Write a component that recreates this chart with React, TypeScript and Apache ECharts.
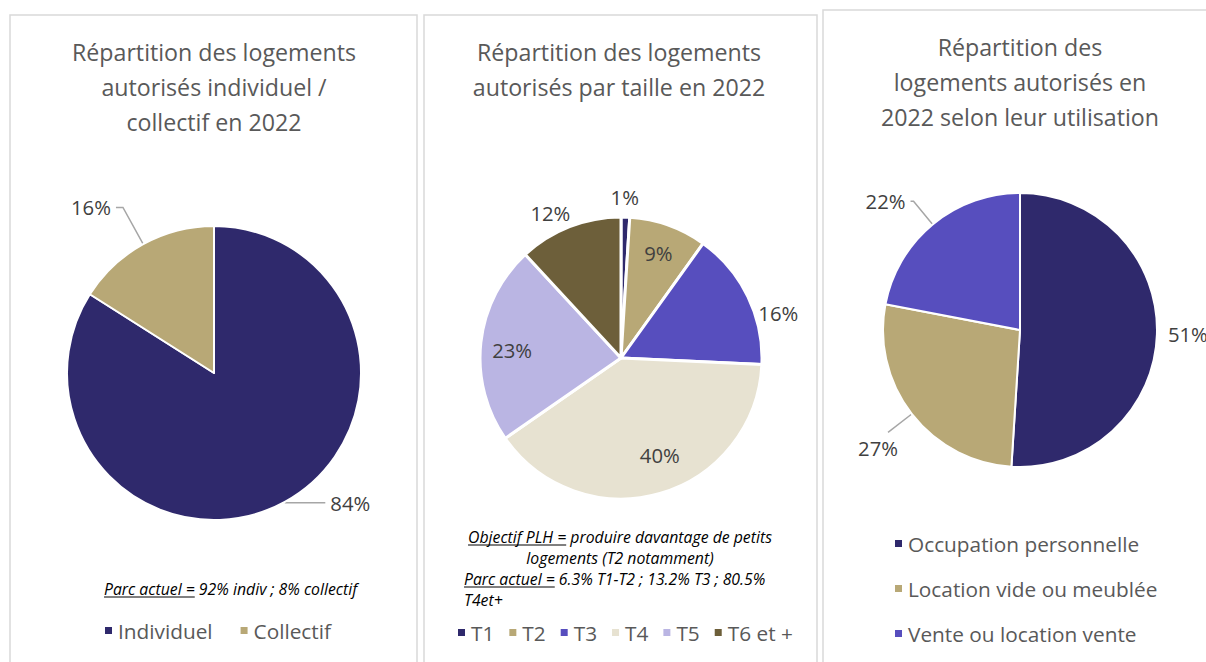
import React, { useEffect, useRef } from "react";
import * as echarts from "echarts";

const FAMILY = "'Open Sans'";
const FONT = "'Open Sans', Lato, sans-serif";

const titleTexts = [
  "Répartition des logements\nautorisés individuel /\ncollectif en 2022",
  "Répartition des logements\nautorisés par taille en 2022",
  "Répartition des\nlogements autorisés en\n2022 selon leur utilisation",
];

const typeCategories = ["Individuel", "Collectif"];
const typeValues = [84, 16];
const typeColors = ["#2F296C", "#B8A876"];

const sizeCategories = ["T1", "T2", "T3", "T4", "T5", "T6 et +"];
const sizeValues = [1, 9, 16, 40, 23, 12];
const sizeColors = ["#2F296C", "#B8A876", "#574EBE", "#E7E2D1", "#BAB5E3", "#6D5F3A"];
const sizeInside = [false, true, false, true, true, false];

const useCategories = ["Occupation personnelle", "Location vide ou meublée", "Vente ou location vente"];
const useValues = [51, 27, 22];
const useColors = ["#2F296C", "#B8A876", "#574EBE"];

const LABEL_COLOR = "#404040";
const TEXT_GRAY = "#595959";
const LINE_GRAY = "#A6A6A6";

function measure(text: string, font: string): number {
  const c = document.createElement("canvas").getContext("2d");
  if (!c) return text.length * 7;
  c.font = font;
  return c.measureText(text).width;
}

// font size so that a sample string takes the width it has in the reference
function fitSize(sample: string, target: number, style = "", fallback = 16): number {
  const w = measure(sample, `${style} 100px ${FAMILY}`);
  if (!w || !isFinite(w)) return fallback;
  return Math.round((100 * target * 10) / w) / 10;
}

export default function App() {
  const ref = useRef<HTMLDivElement>(null);

  useEffect(() => {
    if (!ref.current) return;
    const chart = echarts.init(ref.current, null, { renderer: "svg" });

    const TITLE_SIZE = fitSize("Répartition des logements", 284, "", 21);
    const LEGEND_SIZE = fitSize("Occupation personnelle", 231, "", 20);
    const NOTE_SIZE = fitSize("Parc actuel = 92% indiv ; 8% collectif", 253, "italic", 14);
    const LABEL_SIZE = fitSize("84%", 40, "", 19);
    const NOTE_FONT = `italic ${NOTE_SIZE}px ${FAMILY}`;

    const noteText = (x: number, y: number, text: string, align: string = "left") => ({
      type: "text",
      x,
      y,
      silent: true,
      style: {
        text,
        fontFamily: FONT,
        fontStyle: "italic",
        fontSize: NOTE_SIZE,
        fill: "#000",
        align,
        verticalAlign: "middle",
      },
    });

    const underline = (x: number, y: number, text: string) => {
      const w = measure(text, NOTE_FONT);
      return {
        type: "line",
        silent: true,
        shape: { x1: x, y1: y, x2: x + w, y2: y },
        style: { stroke: "#000", lineWidth: 1 },
      };
    };

    const labelBase = {
      formatter: "{c}%",
      color: LABEL_COLOR,
      fontSize: LABEL_SIZE,
      fontFamily: FONT,
    };

    const n2l1 = "Objectif PLH = produire davantage de petits";
    const n2l1w = measure(n2l1, NOTE_FONT);
    const n2l1x = 620 - n2l1w / 2;

    const sizeLabelShift: Record<number, { dx: number; dy: number }> = {
      0: { dx: -20, dy: -14 },
      2: { dx: 0, dy: 19 },
      5: { dx: 8, dy: -8 },
    };
    const sizeInsideShift: Record<number, { dx: number; dy: number }> = {
      3: { dx: 8, dy: -10 },
      4: { dx: 2, dy: 4 },
    };

    const option: any = {
      animation: false,
      backgroundColor: "#fff",
      textStyle: { fontFamily: FONT },
      title: [
        { text: titleTexts[0], left: 209, top: 29.5, textAlign: "center" },
        { text: titleTexts[1], left: 614, top: 29.5, textAlign: "center" },
        { text: titleTexts[2], left: 1015, top: 24.5, textAlign: "center" },
      ].map((t) => ({
        ...t,
        textStyle: {
          fontFamily: FONT,
          fontSize: TITLE_SIZE,
          fontWeight: "normal",
          color: TEXT_GRAY,
          lineHeight: 35,
        },
      })),
      legend: [
        {
          data: typeCategories,
          left: 103,
          top: 620,
          orient: "horizontal",
          padding: 0,
          itemGap: 26,
        },
        {
          data: sizeCategories,
          left: 456,
          top: 622,
          orient: "horizontal",
          padding: 0,
          itemGap: 13,
        },
        {
          data: useCategories,
          left: 893,
          top: 533,
          orient: "vertical",
          padding: 0,
          itemGap: 24,
        },
      ].map((l) => ({
        ...l,
        icon: "rect",
        itemWidth: 9,
        itemHeight: 9,
        selectedMode: false,
        textStyle: { fontFamily: FONT, fontSize: LEGEND_SIZE, color: TEXT_GRAY },
      })),
      graphic: [
        {
          type: "rect",
          silent: true,
          z: -10,
          shape: { x: 10, y: 15, width: 407, height: 700 },
          style: { fill: "none", stroke: "#D9D9D9", lineWidth: 1.5 },
        },
        {
          type: "rect",
          silent: true,
          z: -10,
          shape: { x: 424, y: 15, width: 393, height: 700 },
          style: { fill: "none", stroke: "#D9D9D9", lineWidth: 1.5 },
        },
        {
          type: "rect",
          silent: true,
          z: -10,
          shape: { x: 823, y: 10, width: 500, height: 700 },
          style: { fill: "none", stroke: "#D9D9D9", lineWidth: 1.5 },
        },
        noteText(104, 589, "Parc actuel = 92% indiv ; 8% collectif"),
        underline(104, 597, "Parc actuel ="),
        noteText(n2l1x, 537, n2l1),
        underline(n2l1x, 545, "Objectif PLH ="),
        noteText(620, 558, "logements (T2 notamment)", "center"),
        noteText(464, 579, "Parc actuel = 6.3% T1-T2 ; 13.2% T3 ; 80.5%"),
        underline(464, 587, "Parc actuel ="),
        noteText(464, 600, "T4et+"),
      ],
      series: [
        {
          type: "pie",
          center: [214, 373],
          radius: [0, 147],
          startAngle: 90,
          clockwise: true,
          silent: true,
          avoidLabelOverlap: false,
          itemStyle: { borderColor: "#fff", borderWidth: 2 },
          label: { ...labelBase, position: "outside" },
          labelLine: { lineStyle: { color: LINE_GRAY, width: 1.5 } },
          data: typeCategories.map((name, i) => ({
            name,
            value: typeValues[i],
            itemStyle: { color: typeColors[i] },
            labelLine: i === 0 ? { length: 1, length2: 40 } : { length: 42, length2: 7 },
          })),
        },
        {
          type: "pie",
          center: [621, 358],
          radius: [0, 141],
          startAngle: 90,
          clockwise: true,
          silent: true,
          avoidLabelOverlap: false,
          itemStyle: { borderColor: "#fff", borderWidth: 3 },
          label: { ...labelBase, position: "outside" },
          labelLine: { show: false, length: 6, length2: 0 },
          labelLayout: (p: any) => sizeLabelShift[p.dataIndex] || {},
          data: sizeCategories.map((name, i) => ({
            name,
            value: sizeValues[i],
            itemStyle: { color: sizeColors[i] },
            label: { show: !sizeInside[i] },
          })),
        },
        {
          // carrier for the labels drawn inside the slices of pie 2
          type: "pie",
          center: [621, 358],
          radius: [0, 217],
          startAngle: 90,
          clockwise: true,
          silent: true,
          avoidLabelOverlap: false,
          z: 3,
          itemStyle: { color: "rgba(0,0,0,0)", borderWidth: 0 },
          label: { ...labelBase, position: "inside" },
          labelLine: { show: false },
          labelLayout: (p: any) => sizeInsideShift[p.dataIndex] || {},
          data: sizeCategories.map((name, i) => ({
            name,
            value: sizeValues[i],
            itemStyle: { color: "rgba(0,0,0,0)" },
            label: { show: sizeInside[i] },
          })),
        },
        {
          type: "pie",
          center: [1020, 330],
          radius: [0, 137],
          startAngle: 90,
          clockwise: true,
          silent: true,
          avoidLabelOverlap: false,
          itemStyle: { borderColor: "#fff", borderWidth: 2 },
          label: { ...labelBase, position: "outside", overflow: "none" },
          labelLine: { lineStyle: { color: LINE_GRAY, width: 1.5 } },
          labelLayout: (p: any) => (p.dataIndex === 1 ? { dx: 15, dy: 16 } : {}),
          data: useCategories.map((name, i) => ({
            name,
            value: useValues[i],
            itemStyle: { color: useColors[i] },
            label: { overflow: "none", width: 60 },
            labelLine:
              i === 0
                ? { show: false, length: 6, length2: 0 }
                : i === 1
                ? { length: 30, length2: 0 }
                : { length: 30, length2: 3 },
          })),
        },
      ],
    };

    chart.setOption(option);
    return () => chart.dispose();
  }, []);

  return (
    <div
      ref={ref}
      style={{ position: "absolute", left: 0, top: 0, width: 1206, height: 662 }}
    />
  );
}
